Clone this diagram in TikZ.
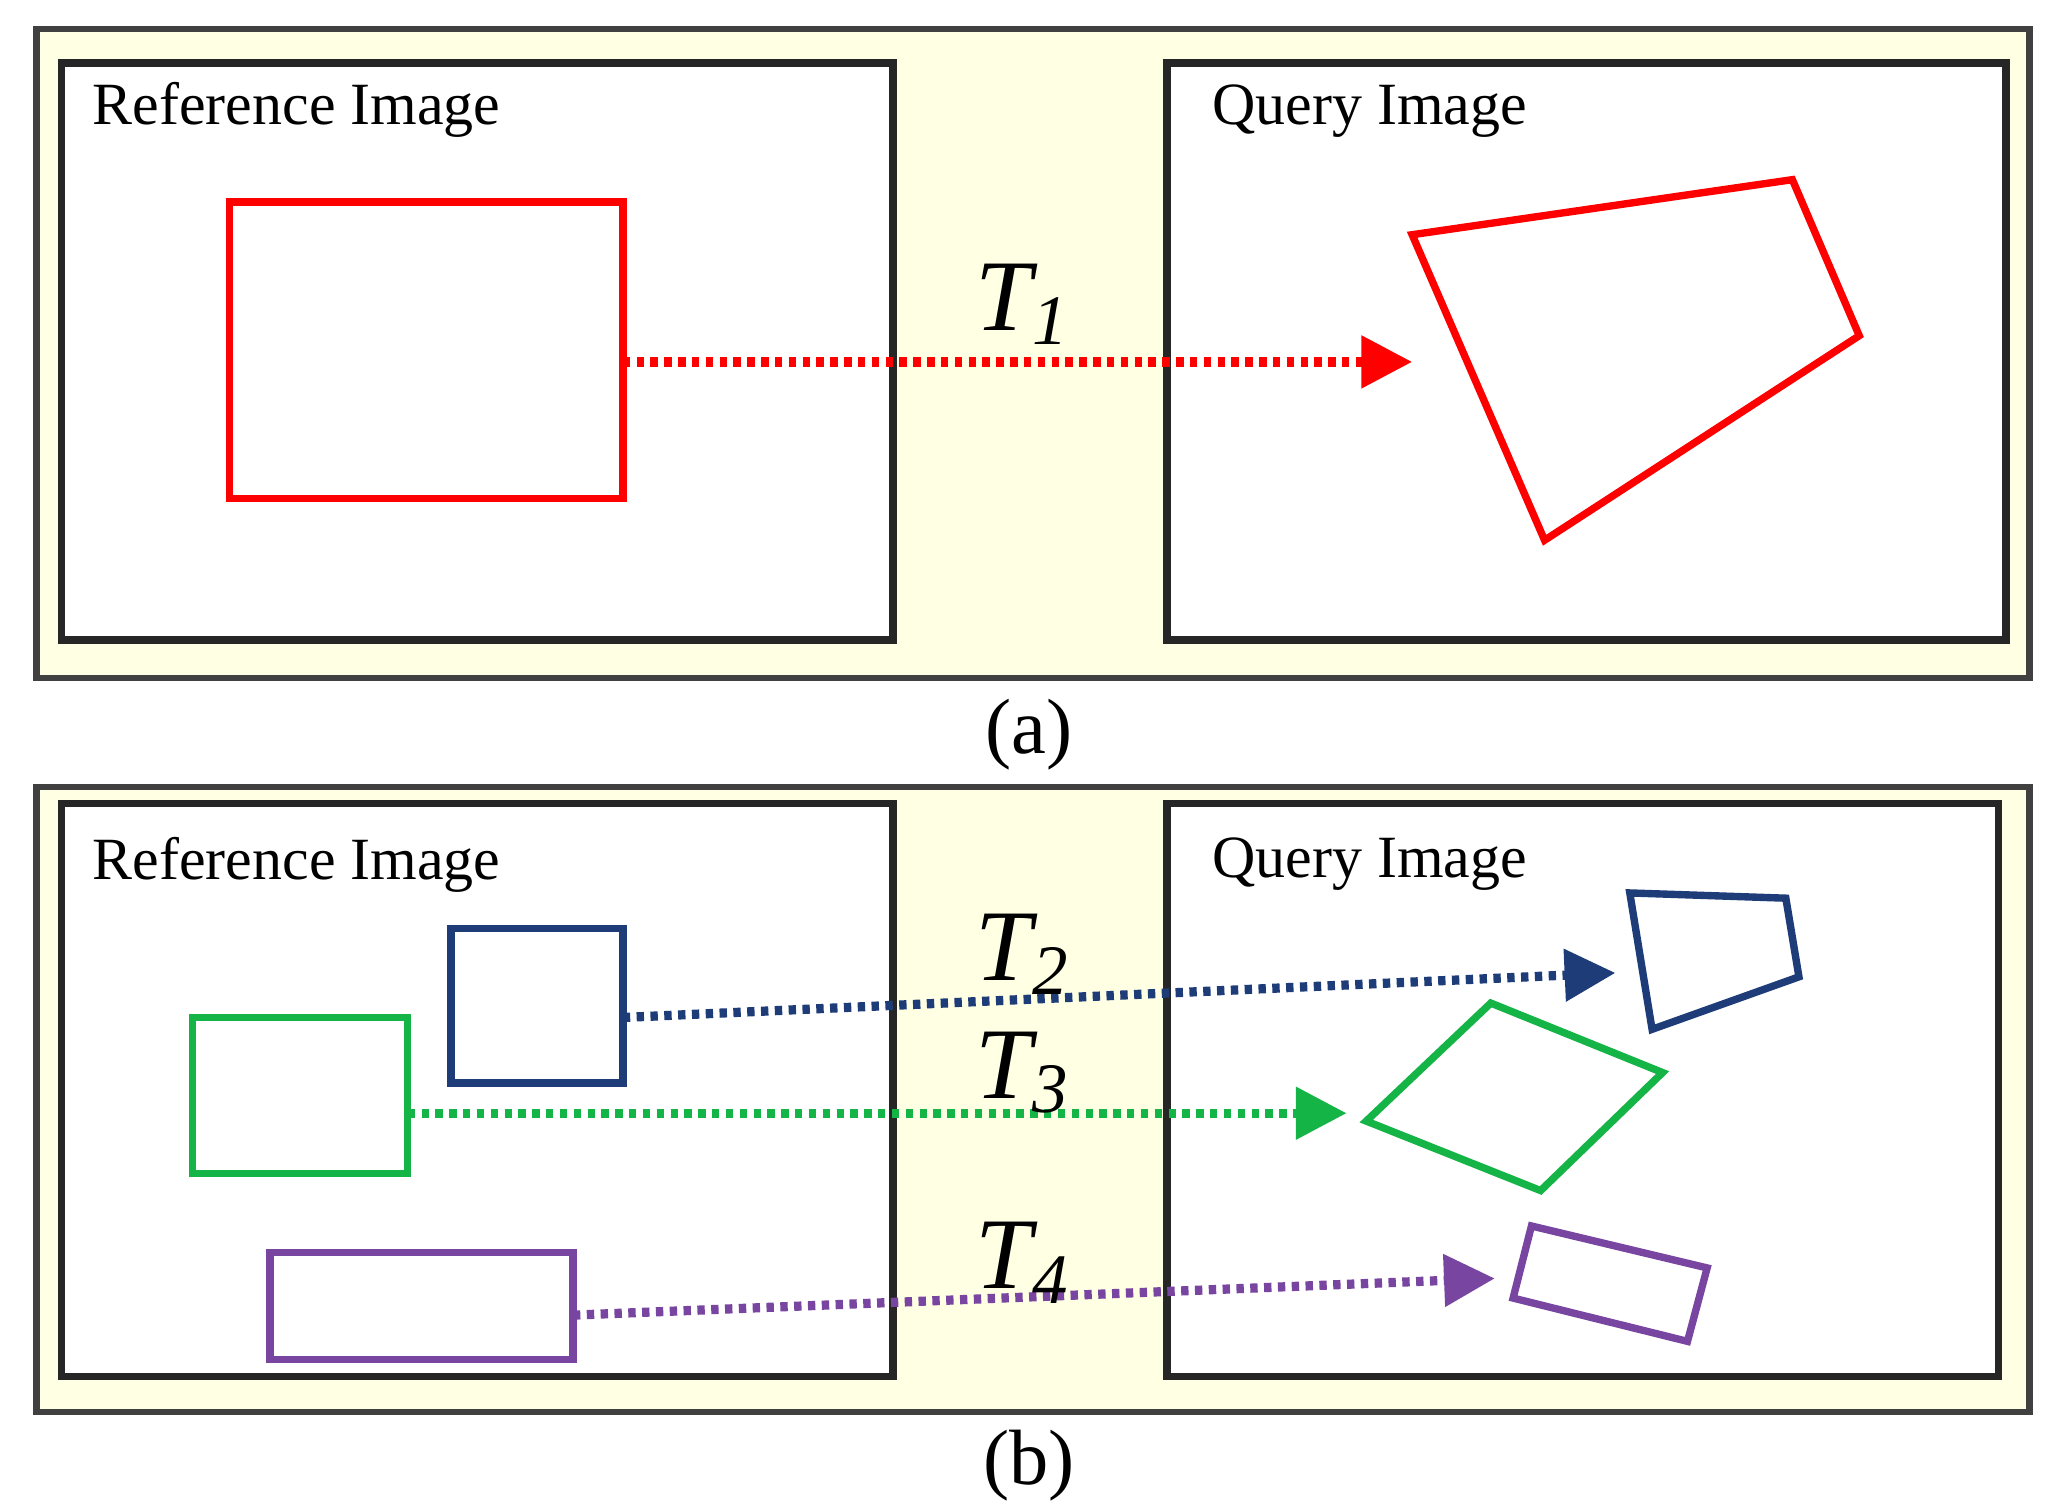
\documentclass[tikz,border=0pt]{standalone}
\usepackage{fontspec}
\setmainfont{Liberation Serif}
\usetikzlibrary{arrows.meta}
\definecolor{panelbg}{RGB}{255,255,228}
\definecolor{qblue}{RGB}{30,60,120}
\definecolor{qgreen}{RGB}{20,180,70}
\definecolor{qpurple}{RGB}{120,70,160}
\tikzset{
  panel/.style={draw=black!75, line width=1.4pt, fill=panelbg},
  img/.style={draw=black!85, line width=1.6pt, fill=white},
  shp/.style={line width=1.6pt},
  map/.style={line width=2pt, dash pattern=on 1.6pt off 1.4pt, -{Triangle[length=11pt,width=11pt]}},
  title/.style={anchor=north west, font=\fontsize{13}{15}\selectfont, inner sep=0pt},
  tlabel/.style={font=\fontsize{22}{24}\selectfont\itshape}
}
\begin{document}
\begin{tikzpicture}[x=0.01cm, y=-0.01cm]
  \useasboundingbox (0,0) rectangle (1565,1153);
  % panel (a)
  \draw[panel] (28,22) rectangle (1548,517);
  \draw[img] (47,48) rectangle (681,488);
  \draw[img] (890,48) rectangle (1530,488);
  \node[title] (refa) at (70,62) {Reference Image};
  \node[title] (qrya) at (924,64) {Query Image};
  \draw[shp, red] (175,154) rectangle (475,380);
  \draw[shp, red] (1077,179) -- (1367,137) -- (1418,256) -- (1178,412) -- cycle;
  \coordinate (r1) at (475,276);
  \coordinate (q1) at (1077,276);
  \draw[map, red] (r1) -- (q1);
  \node[tlabel] (t1) at (780,232) {T\textsubscript{1}};
  \node[font=\fontsize{17}{19}\selectfont] (capa) at (785,560) {(a)};
  % panel (b)
  \draw[panel] (28,600) rectangle (1548,1077);
  \draw[img] (47,613) rectangle (681,1050);
  \draw[img] (890,613) rectangle (1524,1050);
  \node[title] (refb) at (70,638) {Reference Image};
  \node[title] (qryb) at (924,638) {Query Image};
  \draw[shp, qblue] (344,708) rectangle (475,826);
  \draw[shp, qblue] (1243,681) -- (1362,685) -- (1372,745) -- (1260,785) -- cycle;
  \draw[shp, qgreen] (147,776) rectangle (311,895);
  \draw[shp, qgreen] (1042,855) -- (1137,765) -- (1268,818) -- (1175,908) -- cycle;
  \draw[shp, qpurple] (206,955) rectangle (437,1037);
  \draw[shp, qpurple] (1168,935) -- (1302,967) -- (1287,1023) -- (1154,990) -- cycle;
  \coordinate (r2) at (475,776);  \coordinate (q2) at (1232,742);
  \coordinate (r3) at (311,849);  \coordinate (q3) at (1027,849);
  \coordinate (r4) at (437,1003); \coordinate (q4) at (1140,975);
  \draw[map, qblue] (r2) -- (q2);
  \draw[map, qgreen] (r3) -- (q3);
  \draw[map, qpurple] (r4) -- (q4);
  \node[tlabel] (t2) at (780,728) {T\textsubscript{2}};
  \node[tlabel] (t3) at (780,818) {T\textsubscript{3}};
  \node[tlabel] (t4) at (780,963) {T\textsubscript{4}};
  \node[font=\fontsize{17}{19}\selectfont] (capb) at (785,1118) {(b)};
\end{tikzpicture}
\end{document}
